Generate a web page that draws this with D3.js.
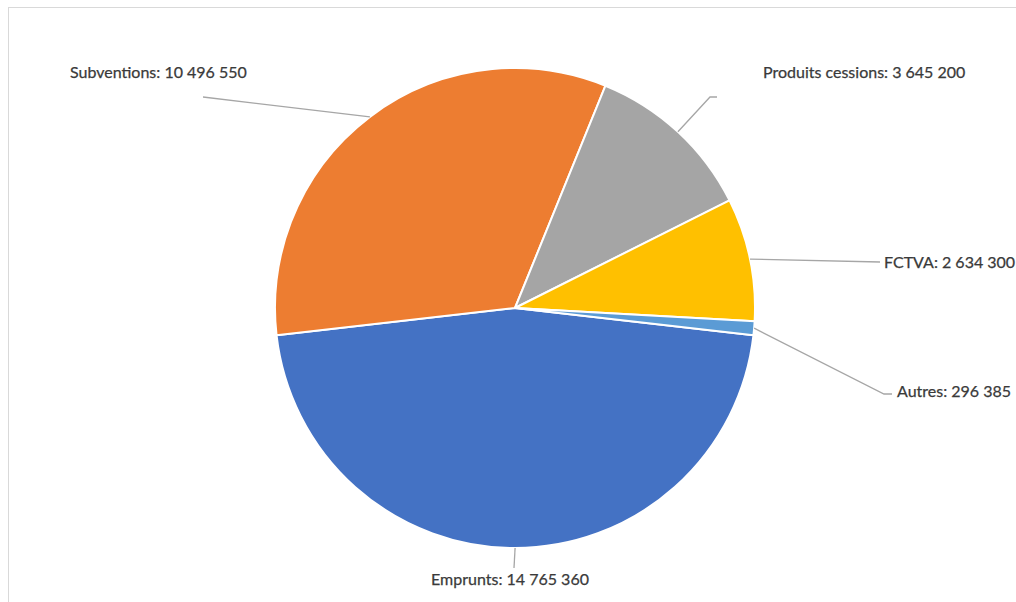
<!DOCTYPE html>
<html>
<head>
<meta charset="utf-8">
<script src="https://cdn.jsdelivr.net/npm/d3@7"></script>
<style>
  html, body { margin: 0; padding: 0; background: #fff; }
  svg { display: block; }
  .lbl { font-family: Lato, "Open Sans", sans-serif; font-size: 16px; fill: #3a3a3a; stroke: #3a3a3a; stroke-width: 0.25px; }
</style>
</head>
<body>
<div id="chart"></div>
<script>
// Investment resources breakdown (euros)
const categories = ["Emprunts", "Subventions", "Produits cessions", "FCTVA", "Autres"];
const values = [14765360, 10496550, 3645200, 2634300, 296385];
const colors = ["#4472C4", "#ED7D31", "#A5A5A5", "#FFC000", "#5B9BD5"];

// Where each callout ends (elbow) and where its text sits
const labelLayout = [
  { elbow: [514, 568], end: [514, 568], text: [510, 585], anchor: "middle" },
  { elbow: [203, 97],  end: [203, 97],  text: [70, 78],   anchor: "start" },
  { elbow: [710, 97],  end: [717, 97],  text: [763, 78],  anchor: "start" },
  { elbow: [880, 262], end: [880, 262], text: [884, 268], anchor: "start" },
  { elbow: [884, 394], end: [892, 394], text: [897, 397], anchor: "start" }
];

const W = 1016, H = 602;
const cx = 515, cy = 308, R = 240;

const svg = d3.select("#chart").append("svg")
  .attr("width", W).attr("height", H);

// chart area frame
svg.append("rect")
  .attr("x", 8.5).attr("y", 7.5)
  .attr("width", W + 20).attr("height", H + 20)
  .attr("fill", "none").attr("stroke", "#d9d9d9").attr("stroke-width", 1);

const startDeg = 96.5;
const pie = d3.pie().sort(null).value(d => d)
  .startAngle(startDeg * Math.PI / 180)
  .endAngle((startDeg + 360) * Math.PI / 180);
const arcs = pie(values);

const arc = d3.arc().innerRadius(0).outerRadius(R);

const g = svg.append("g").attr("transform", `translate(${cx},${cy})`);

g.selectAll("path.slice")
  .data(arcs)
  .join("path")
  .attr("class", "slice")
  .attr("d", arc)
  .attr("fill", (d, i) => colors[i])
  .attr("stroke", "#fff")
  .attr("stroke-width", 2)
  .attr("stroke-linejoin", "round");

const fmt = v => d3.format(",")(v).replace(/,/g, " ");

// leader lines from slice mid-angle on the rim to the label
arcs.forEach((a, i) => {
  const mid = (a.startAngle + a.endAngle) / 2;
  const x0 = cx + R * Math.sin(mid);
  const y0 = cy - R * Math.cos(mid);
  const L = labelLayout[i];
  svg.append("polyline")
    .attr("points", [[x0, y0], L.elbow, L.end].map(p => p.join(",")).join(" "))
    .attr("fill", "none")
    .attr("stroke", "#a6a6a6")
    .attr("stroke-width", 1.3);
  svg.append("text")
    .attr("class", "lbl")
    .attr("x", L.text[0]).attr("y", L.text[1])
    .attr("text-anchor", L.anchor)
    .text(`${categories[i]}: ${fmt(values[i])}`);
});
</script>
</body>
</html>
